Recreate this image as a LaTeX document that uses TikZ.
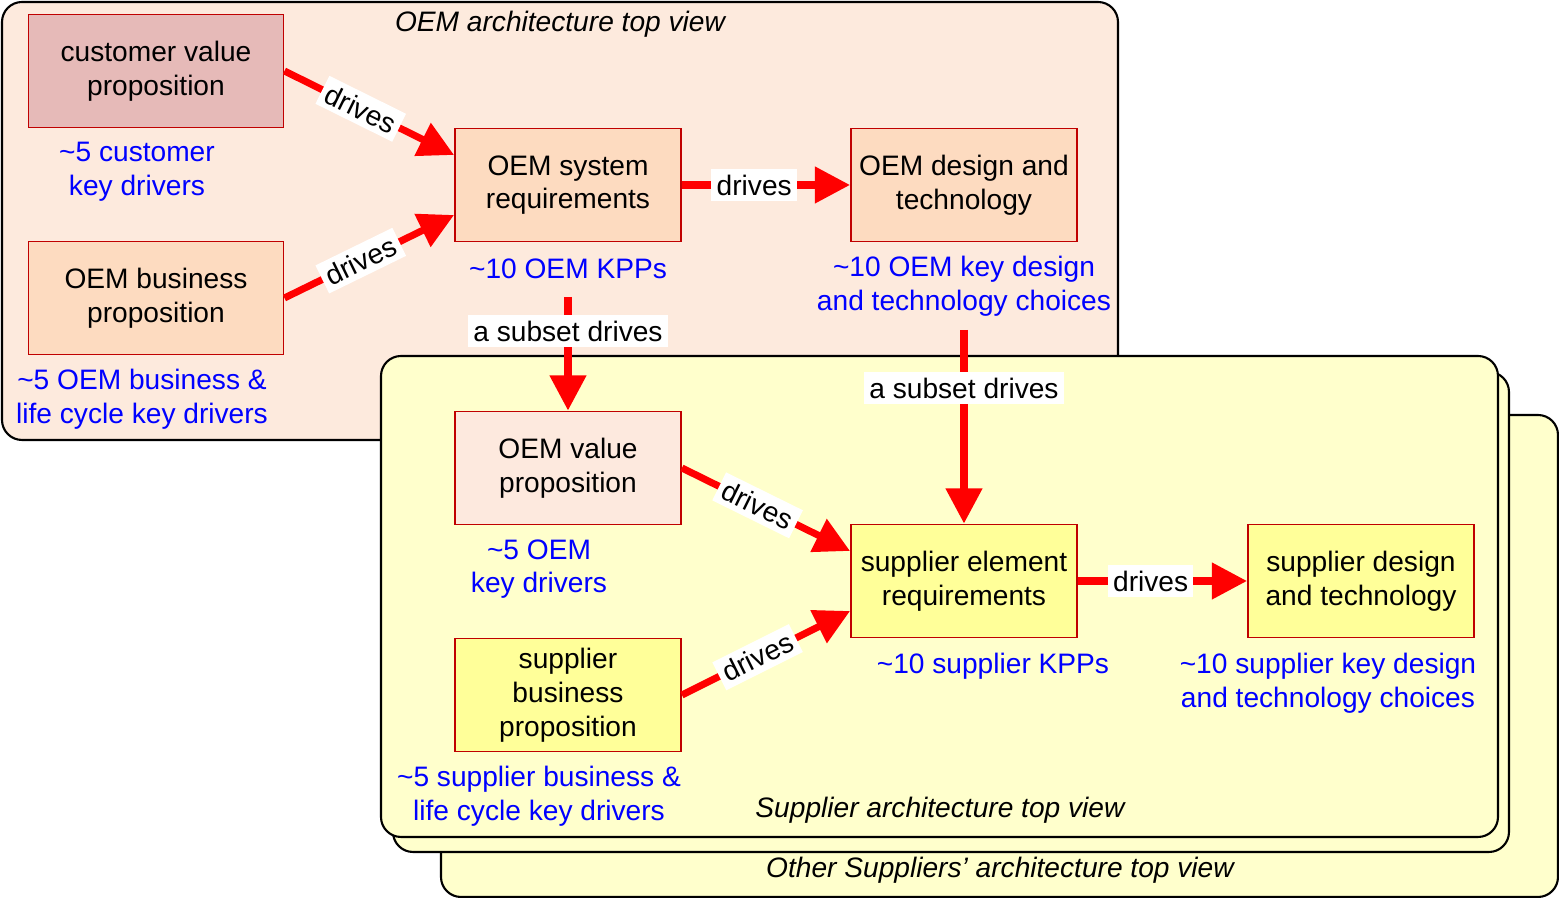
\documentclass[tikz,border=0pt]{standalone}
\usepackage{fontspec}
\setmainfont{Liberation Sans}
\usetikzlibrary{arrows.meta,positioning}
\definecolor{panelOEM}{RGB}{253,234,221}
\definecolor{panelSup}{RGB}{255,255,204}
\definecolor{peach}{RGB}{253,219,192}
\definecolor{rose}{RGB}{230,186,184}
\definecolor{lightpeach}{RGB}{253,233,222}
\definecolor{yel}{RGB}{255,255,153}
\definecolor{boxline}{RGB}{192,0,0}
\tikzset{
  panel/.style = {draw=black, rounded corners=0.2cm, line width=0.6pt},
  item/.style = {rectangle, draw=boxline, line width=0.5pt, align=center, minimum width=2.26cm, minimum height=1.13cm, inner sep=1pt},
  kd/.style = {text=blue, align=center, inner sep=1pt},
  ttl/.style = {font=\fontsize{8}{9.6}\selectfont\itshape, inner sep=1pt},
  drv/.style = {red, line width=2pt, -{Triangle[length=10pt,width=10pt]}},
  lbl/.style = {fill=white, text=black, inner sep=1.5pt}
}
\begin{document}
\begin{tikzpicture}[x=0.01cm, y=-0.01cm, font=\fontsize{8}{9.6}\selectfont]
	\useasboundingbox (0,0) rectangle (1559,898);

	% panels
	\filldraw[panel, fill=panelOEM] (2,2) rectangle (1118,440);
	\filldraw[panel, fill=panelSup] (441,415) rectangle (1558,897);
	\filldraw[panel, fill=panelSup] (393,372) rectangle (1509,852);
	\filldraw[panel, fill=panelSup] (381,356) rectangle (1498,837);
	\node[ttl] (OEM-title) at (560,24) {OEM architecture top view};
	\node[ttl] (Sup-title) at (940,810) {Supplier architecture top view};
	\node[ttl] (Oth-title) at (1000,870) {Other Suppliers’ architecture top view};

	% OEM boxes
	\node[item, minimum width=2.55cm, fill=rose] (Cust-VP) at (156,71) {customer value\\proposition};
	\node[item, minimum width=2.55cm, fill=peach] (OEM-BP) at (156,298) {OEM business\\proposition};
	\node[item, fill=peach] (OEM-Req) at (568,185) {OEM system\\requirements};
	\node[item, fill=peach] (OEM-Des) at (964,185) {OEM design and\\technology};

	% supplier boxes
	\node[item, fill=lightpeach] (OEM-VP) at (568,468) {OEM value\\proposition};
	\node[item, fill=yel] (Sup-BP) at (568,695) {supplier\\business\\proposition};
	\node[item, fill=yel] (Sup-Req) at (964,581) {supplier element\\requirements};
	\node[item, fill=yel] (Sup-Des) at (1361,581) {supplier design\\and technology};

	% key drivers
	\node[kd] (Cust-KD) at (137,172) {\textasciitilde5 customer\\key drivers};
	\node[kd] (OEM-BKD) at (142,399) {\textasciitilde5 OEM business \&\\life cycle key drivers};
	\node[kd] (OEM-KPP) at (568,269) {\textasciitilde10 OEM KPPs};
	\node[kd] (OEM-DC) at (964,286) {\textasciitilde10 OEM key design\\and technology choices};
	\node[kd] (OEM-KD) at (539,569) {\textasciitilde5 OEM\\key drivers};
	\node[kd] (Sup-BKD) at (539,796) {\textasciitilde5 supplier business \&\\life cycle key drivers};
	\node[kd] (Sup-KPP) at (993,666) {\textasciitilde10 supplier KPPs};
	\node[kd] (Sup-DC) at (1328,683) {\textasciitilde10 supplier key design\\and technology choices};

	\coordinate (KPP-out) at (568,297);
	\coordinate (DC-out) at (964,330);

	% arrows
	\draw[drv] (Cust-VP.east) -- node[lbl, sloped, pos=0.45] {drives} ([yshift=0.3cm]OEM-Req.west);
	\draw[drv] (OEM-BP.east) -- node[lbl, sloped, pos=0.45] {drives} ([yshift=-0.3cm]OEM-Req.west);
	\draw[drv] (OEM-Req.east) -- node[lbl, pos=0.43] {drives} (OEM-Des.west);
	\draw[drv] (KPP-out) -- node[lbl, pos=0.3] {a subset drives} (OEM-VP.north);
	\draw[drv] (DC-out) -- node[lbl, pos=0.3] {a subset drives} (Sup-Req.north);
	\draw[drv] (OEM-VP.east) -- node[lbl, sloped, pos=0.45] {drives} ([yshift=0.3cm]Sup-Req.west);
	\draw[drv] (Sup-BP.east) -- node[lbl, sloped, pos=0.45] {drives} ([yshift=-0.3cm]Sup-Req.west);
	\draw[drv] (Sup-Req.east) -- node[lbl, pos=0.43] {drives} (Sup-Des.west);
\end{tikzpicture}
\end{document}
